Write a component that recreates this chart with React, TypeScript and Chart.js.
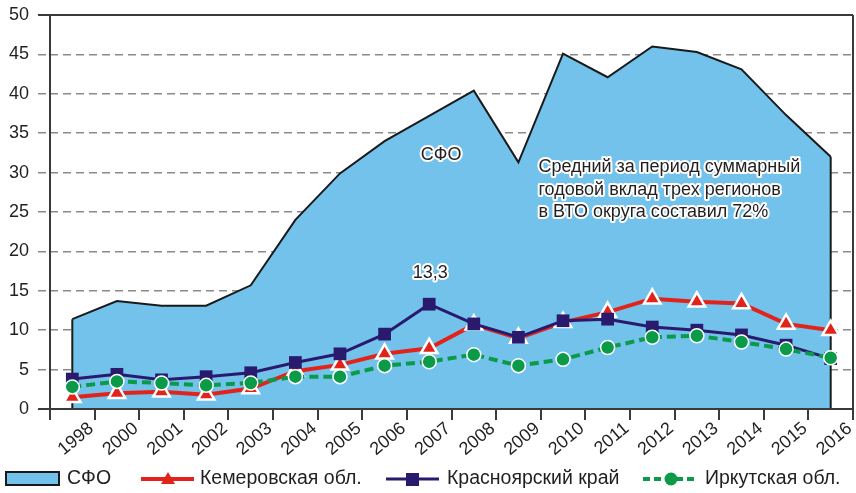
import React, { useEffect, useRef } from "react";
import { Chart, registerables } from "chart.js";

Chart.register(...registerables);

const years = ["1998", "2000", "2001", "2002", "2003", "2004", "2005", "2006", "2007", "2008", "2009", "2010", "2011", "2012", "2013", "2014", "2015", "2016"];
const sfo = [11.4, 13.7, 13.1, 13.1, 15.7, 24.0, 29.9, 34.0, 37.2, 40.4, 31.3, 45.1, 42.1, 46.0, 45.3, 43.1, 37.3, 32.0];
const kemerovo = [1.5, 2.0, 2.2, 1.8, 2.6, 4.8, 5.6, 7.0, 7.7, 10.7, 9.0, 11.0, 12.3, 14.0, 13.6, 13.4, 10.8, 10.0];
const krasnoyarsk = [3.8, 4.4, 3.7, 4.1, 4.6, 5.9, 7.0, 9.5, 13.3, 10.8, 9.1, 11.2, 11.4, 10.4, 10.0, 9.4, 8.1, 6.4];
const irkutsk = [2.8, 3.5, 3.3, 3.0, 3.3, 4.1, 4.1, 5.5, 6.0, 6.9, 5.5, 6.3, 7.8, 9.1, 9.3, 8.5, 7.6, 6.5];
const seriesNames = ["СФО", "Кемеровская обл.", "Красноярский край", "Иркутская обл."];
const yMin = 0;
const yMax = 50;
const yStep = 5;
const peakLabel = "13,3";
const peakIndex = 8;
const areaLabel = "СФО";
const noteLines = ["Средний за период суммарный", "годовой вклад трех регионов", "в ВТО округа составил 72%"];

const FONT = "'Liberation Sans', Arial, sans-serif";
const TEXT = "#231f20";
const FRAME = "#3a3a3a";
const GRID = "#8a8a8a";
const AREA_FILL = "#72c2ec";
const RED = "#e2231a";
const NAVY = "#2a1a6e";
const GREEN = "#0a9a48";

function haloText(ctx: CanvasRenderingContext2D, text: string, x: number, y: number) {
  ctx.lineJoin = "round";
  ctx.strokeStyle = "#ffffff";
  ctx.lineWidth = 4;
  ctx.strokeText(text, x, y);
  ctx.fillStyle = TEXT;
  ctx.fillText(text, x, y);
}

const customPlugin = {
  id: "customDraw",
  afterDatasetDraw(chart: any, args: any) {
    if (args.index !== 0) return;
    const meta = chart.getDatasetMeta(0);
    const pts = meta.data;
    const ctx = chart.ctx as CanvasRenderingContext2D;
    const y0 = chart.scales.y.getPixelForValue(0);
    ctx.save();
    ctx.strokeStyle = "#1a1a1a";
    ctx.lineWidth = 2;
    ctx.beginPath();
    ctx.moveTo(pts[0].x, y0);
    ctx.lineTo(pts[0].x, pts[0].y);
    ctx.moveTo(pts[pts.length - 1].x, y0);
    ctx.lineTo(pts[pts.length - 1].x, pts[pts.length - 1].y);
    ctx.stroke();
    ctx.restore();
  },
  afterDatasetsDraw(chart: any) {
    const ctx = chart.ctx as CanvasRenderingContext2D;
    const { left, right, top, bottom } = chart.chartArea;
    ctx.save();
    ctx.strokeStyle = FRAME;
    ctx.lineWidth = 2;
    ctx.beginPath();
    ctx.moveTo(left - 12, top);
    ctx.lineTo(right, top);
    ctx.moveTo(left - 12, bottom);
    ctx.lineTo(right, bottom);
    ctx.moveTo(left, top);
    ctx.lineTo(left, bottom + 11);
    ctx.moveTo(right, top);
    ctx.lineTo(right, bottom + 11);
    ctx.stroke();

    const xs = chart.scales.x;
    const ys = chart.scales.y;
    ctx.font = `18px ${FONT}`;
    ctx.textBaseline = "middle";
    ctx.textAlign = "center";
    haloText(ctx, areaLabel, xs.getPixelForValue(peakIndex) + 12, ys.getPixelForValue(32.2));
    const kp = chart.getDatasetMeta(2).data[peakIndex];
    haloText(ctx, peakLabel, kp.x + 1, kp.y - 31);
    ctx.textAlign = "left";
    const nx = xs.getPixelForValue(10) + 20;
    const ny = ys.getPixelForValue(30.7);
    noteLines.forEach((line, i) => haloText(ctx, line, nx, ny + i * 22.5));
    ctx.restore();
  },
  afterDraw(chart: any) {
    const ctx = chart.ctx as CanvasRenderingContext2D;
    const ly = 479;
    ctx.save();
    ctx.font = `19.5px ${FONT}`;
    ctx.textBaseline = "middle";
    ctx.textAlign = "left";
    ctx.fillStyle = AREA_FILL;
    ctx.fillRect(6, 472, 53, 13);
    ctx.strokeStyle = "#1a1a1a";
    ctx.lineWidth = 2;
    ctx.strokeRect(6, 472, 53, 13);
    ctx.fillStyle = TEXT;
    ctx.fillText(seriesNames[0], 67, ly);
    ctx.strokeStyle = RED;
    ctx.lineWidth = 4;
    ctx.beginPath();
    ctx.moveTo(141, ly);
    ctx.lineTo(194, ly);
    ctx.stroke();
    ctx.fillStyle = RED;
    ctx.beginPath();
    ctx.moveTo(168, ly - 7);
    ctx.lineTo(175, ly + 5);
    ctx.lineTo(161, ly + 5);
    ctx.closePath();
    ctx.fill();
    ctx.fillStyle = TEXT;
    ctx.fillText(seriesNames[1], 200, ly);
    ctx.strokeStyle = NAVY;
    ctx.lineWidth = 3;
    ctx.beginPath();
    ctx.moveTo(386, ly);
    ctx.lineTo(439, ly);
    ctx.stroke();
    ctx.fillStyle = NAVY;
    ctx.fillRect(406, ly - 6, 13, 13);
    ctx.fillStyle = TEXT;
    ctx.fillText(seriesNames[2], 447, ly);
    ctx.strokeStyle = GREEN;
    ctx.lineWidth = 4;
    ctx.setLineDash([7, 4]);
    ctx.beginPath();
    ctx.moveTo(643, ly);
    ctx.lineTo(698, ly);
    ctx.stroke();
    ctx.setLineDash([]);
    ctx.fillStyle = GREEN;
    ctx.beginPath();
    ctx.arc(671, ly, 6.5, 0, Math.PI * 2);
    ctx.fill();
    ctx.fillStyle = TEXT;
    ctx.fillText(seriesNames[3], 705, ly);
    ctx.restore();
  },
};

export default function App() {
  const ref = useRef<HTMLCanvasElement | null>(null);
  useEffect(() => {
    if (!ref.current) return;
    const chart = new Chart(ref.current, {
      type: "line",
      data: {
        labels: years,
        datasets: [
          {
            label: seriesNames[0],
            data: sfo,
            fill: "origin",
            backgroundColor: AREA_FILL,
            borderColor: "#1a1a1a",
            borderWidth: 2,
            pointRadius: 0,
            tension: 0,
            order: 3,
          },
          {
            label: seriesNames[1],
            data: kemerovo,
            borderColor: RED,
            borderWidth: 4,
            pointStyle: "triangle",
            pointRadius: 9.5,
            pointBackgroundColor: RED,
            pointBorderColor: "#ffffff",
            pointBorderWidth: 2.5,
            fill: false,
            order: 2,
          },
          {
            label: seriesNames[2],
            data: krasnoyarsk,
            borderColor: NAVY,
            borderWidth: 3,
            pointStyle: "rect",
            pointRadius: 9,
            pointBackgroundColor: NAVY,
            pointBorderColor: NAVY,
            pointBorderWidth: 0,
            fill: false,
            order: 1,
          },
          {
            label: seriesNames[3],
            data: irkutsk,
            borderColor: GREEN,
            borderWidth: 4,
            borderDash: [9, 5],
            pointStyle: "circle",
            pointRadius: 7,
            pointBackgroundColor: GREEN,
            pointBorderColor: "#ffffff",
            pointBorderWidth: 1.5,
            fill: false,
            order: 0,
          },
        ],
      },
      options: {
        responsive: false,
        animation: false,
        layout: { autoPadding: false, padding: { top: 15, right: 3, bottom: 0, left: 0 } },
        plugins: {
          legend: { display: false },
          tooltip: { enabled: false },
        },
        scales: {
          x: {
            type: "category",
            offset: true,
            afterFit: (s: any) => {
              s.height = 84;
              s.paddingLeft = 0;
              s.paddingRight = 0;
            },
            grid: {
              offset: true,
              drawOnChartArea: false,
              tickLength: 11,
              tickColor: FRAME,
              lineWidth: 2,
            },
            border: { display: false },
            ticks: {
              autoSkip: false,
              maxRotation: 40,
              minRotation: 40,
              labelOffset: 19,
              padding: -2,
              color: TEXT,
              font: { family: FONT, size: 18 },
            },
          },
          y: {
            min: yMin,
            max: yMax,
            afterFit: (s: any) => {
              s.width = 50;
              s.paddingTop = 0;
              s.paddingBottom = 0;
            },
            grid: {
              color: (c: any) => (c.tick && (c.tick.value === yMin || c.tick.value === yMax) ? "rgba(0,0,0,0)" : GRID),
              tickColor: (c: any) => (c.tick && (c.tick.value === yMin || c.tick.value === yMax) ? "rgba(0,0,0,0)" : GRID),
              lineWidth: 1.5,
              tickLength: 12,
              tickBorderDash: [8, 5],
            },
            border: { display: false, dash: [8, 5] },
            ticks: {
              stepSize: yStep,
              padding: 9,
              color: TEXT,
              font: { family: FONT, size: 18 },
            },
          },
        },
      },
      plugins: [customPlugin],
    } as any);
    return () => chart.destroy();
  }, []);
  return (
    <div style={{ position: "absolute", left: 0, top: 0, width: 856, height: 493, background: "#ffffff" }}>
      <canvas ref={ref} width={856} height={493} />
    </div>
  );
}
